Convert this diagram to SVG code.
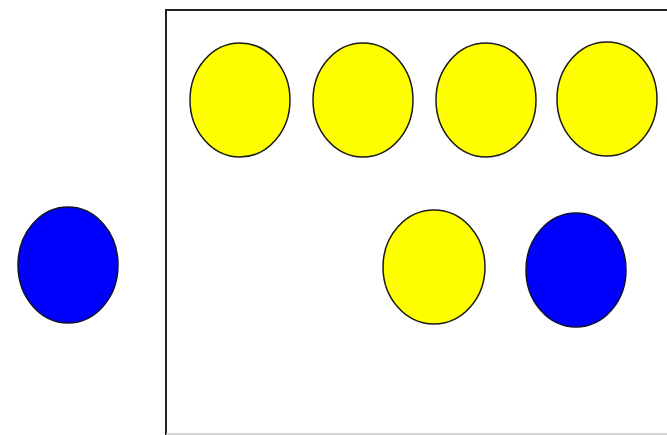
<svg xmlns="http://www.w3.org/2000/svg" width="667" height="435" viewBox="0 0 667 435">
<style>
.y{fill:#ffff00;stroke:#1a1a1a;stroke-width:1.5}
.b{fill:#0000ff;stroke:#101030;stroke-width:1.5}
.edge{stroke:#222;stroke-width:2;fill:none}
</style>
<rect width="667" height="435" fill="#fff"/>
<g id="box">
<path class="edge" d="M166 435 V10 H667"/>
<line x1="166" y1="434" x2="667" y2="434" stroke="#c8c8c8" stroke-width="1.5"/>
</g>
<g id="blue-left"><ellipse class="b" cx="68" cy="265" rx="50" ry="58"/></g>
<g id="yellow-1"><ellipse class="y" cx="240" cy="100" rx="50" ry="57"/></g>
<g id="yellow-2"><ellipse class="y" cx="363" cy="100" rx="50" ry="57"/></g>
<g id="yellow-3"><ellipse class="y" cx="486" cy="100" rx="50" ry="57"/></g>
<g id="yellow-4"><ellipse class="y" cx="607" cy="99" rx="50" ry="57"/></g>
<g id="yellow-5"><ellipse class="y" cx="434" cy="267" rx="51" ry="57"/></g>
<g id="blue-right"><ellipse class="b" cx="576" cy="270" rx="50" ry="57"/></g>
<g id="connectors"></g>
</svg>
